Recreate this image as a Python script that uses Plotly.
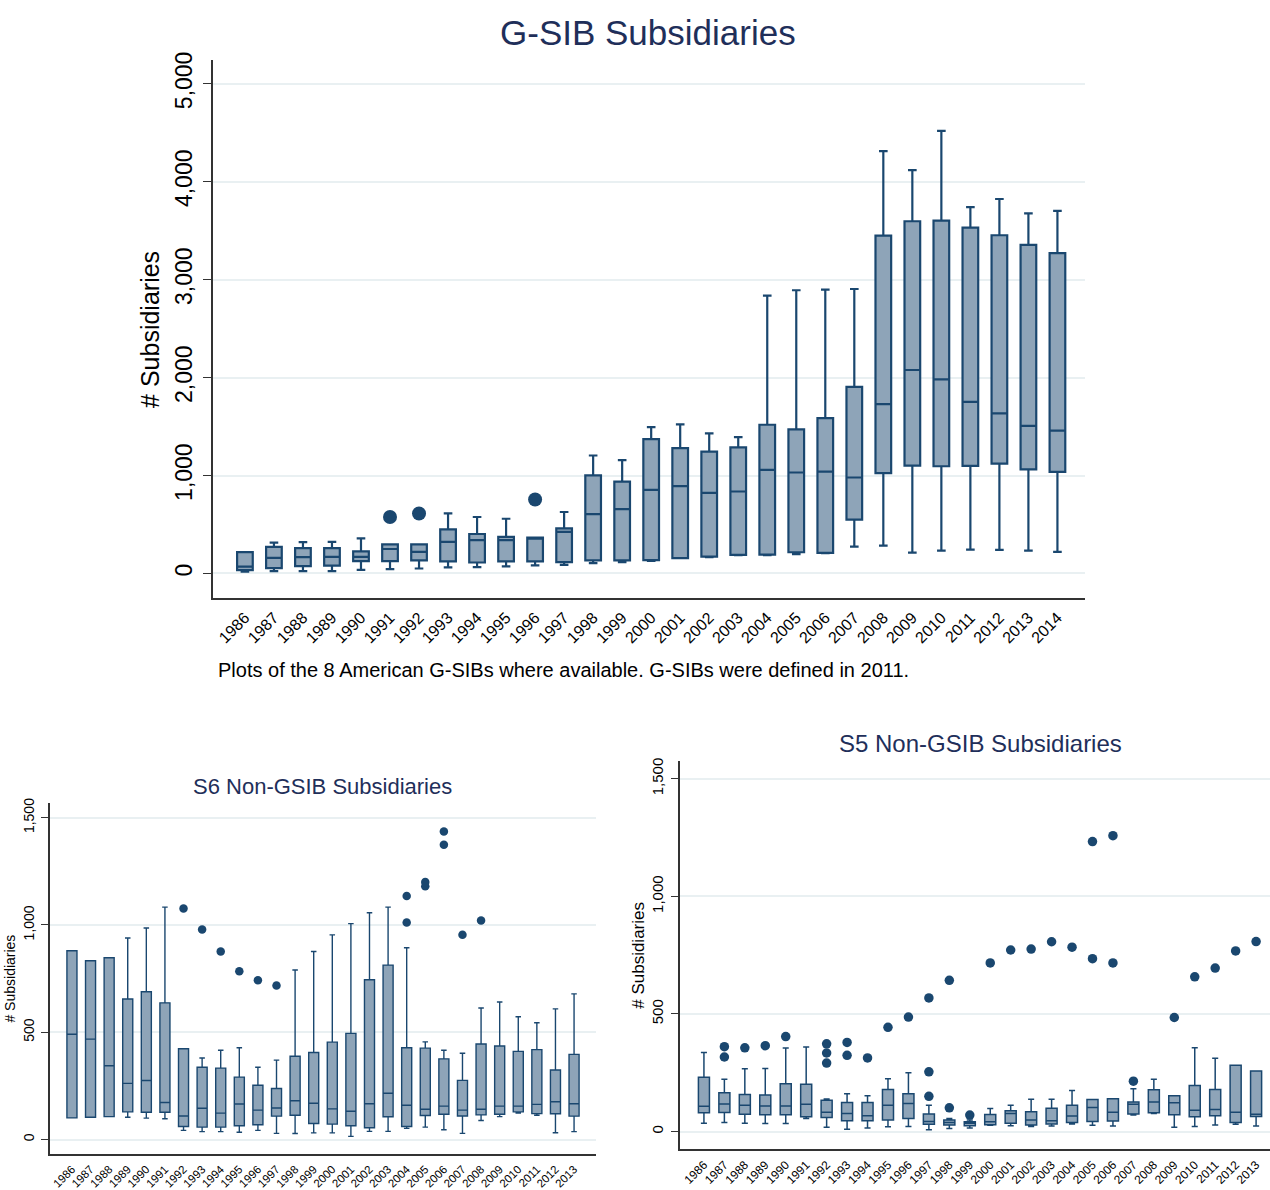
import plotly.graph_objects as go

# ---- data ----
g_years = list(range(1986, 2015))
g_lower = [20, 25, 25, 25, 36, 44, 51, 62, 65, 73, 83, 87, 105, 116, 129, 156, 166, 186, 186, 197, 207, 275, 285, 214, 234, 244, 241, 234, 220]
g_q1 = [35, 54, 76, 80, 127, 127, 134, 123, 112, 123, 123, 116, 134, 134, 136, 156, 173, 190, 193, 217, 210, 549, 1024, 1102, 1095, 1098, 1122, 1064, 1037]
g_med = [70, 160, 167, 170, 170, 250, 221, 323, 341, 341, 359, 424, 606, 657, 854, 892, 824, 837, 1058, 1031, 1041, 980, 1729, 2078, 1983, 1753, 1634, 1508, 1458]
g_q3 = [218, 272, 258, 258, 225, 298, 298, 450, 403, 374, 366, 461, 1001, 938, 1373, 1281, 1244, 1288, 1519, 1471, 1586, 1905, 3451, 3597, 3603, 3532, 3454, 3356, 3271]
g_upper = [218, 316, 320, 323, 359, 298, 298, 613, 577, 559, 366, 628, 1205, 1158, 1495, 1522, 1431, 1393, 2837, 2892, 2898, 2905, 4312, 4119, 4519, 3742, 3824, 3678, 3702]
g_out_x = [1991, 1992, 1996]
g_out_y = [577, 613, 755]

s_years = list(range(1986, 2014))
s6_lower = [101, 104, 107, 104, 100, 97, 43, 37, 37, 34, 43, 29, 28, 31, 31, 15, 38, 38, 52, 58, 46, 29, 89, 107, 124, 113, 32, 37]
s6_q1 = [101, 104, 107, 129, 127, 127, 61, 58, 58, 64, 69, 109, 113, 75, 72, 64, 55, 106, 61, 112, 118, 110, 115, 118, 129, 121, 120, 109]
s6_med = [491, 468, 344, 262, 275, 173, 110, 146, 123, 166, 137, 147, 181, 169, 143, 132, 167, 216, 160, 141, 156, 137, 141, 156, 156, 164, 176, 167]
s6_q3 = [880, 833, 847, 655, 689, 637, 423, 337, 333, 291, 253, 238, 388, 406, 454, 495, 745, 813, 428, 426, 376, 276, 445, 436, 411, 419, 324, 397]
s6_upper = [880, 833, 847, 939, 986, 1083, 423, 380, 416, 428, 337, 370, 790, 876, 954, 1006, 1057, 1083, 894, 455, 416, 402, 613, 641, 572, 544, 609, 679]
s6_out_x = [1992, 1993, 1994, 1995, 1996, 1997, 2004, 2004, 2005, 2005, 2006, 2006, 2007, 2008]
s6_out_y = [1077, 979, 876, 784, 742, 718, 1012, 1135, 1180, 1200, 1374, 1436, 954, 1021]

s5_lower = [35, 38, 35, 34, 34, 56, 18, 10, 15, 20, 22, 8, 13, 15, 27, 25, 22, 24, 32, 27, 24, 70, 77, 18, 21, 28, 31, 24]
s5_q1 = [80, 81, 74, 71, 71, 63, 60, 46, 46, 49, 56, 31, 28, 25, 29, 35, 28, 32, 39, 43, 45, 75, 80, 71, 63, 67, 38, 64]
s5_med = [108, 117, 112, 109, 109, 116, 82, 77, 67, 112, 119, 43, 39, 35, 42, 77, 49, 46, 66, 102, 82, 116, 126, 123, 91, 94, 82, 74]
s5_q3 = [231, 165, 158, 155, 203, 201, 133, 124, 124, 179, 161, 75, 49, 42, 73, 88, 84, 99, 112, 136, 140, 126, 178, 152, 196, 179, 282, 257]
s5_upper = [336, 222, 267, 268, 355, 359, 138, 161, 152, 225, 250, 112, 55, 49, 98, 112, 137, 137, 175, 136, 140, 182, 222, 152, 356, 312, 282, 257]
s5_out_x = [1987, 1987, 1988, 1989, 1990, 1992, 1992, 1992, 1993, 1993, 1994, 1995, 1996, 1997, 1997, 1997,
            1998, 1998, 1999, 2000, 2001, 2002, 2003, 2004, 2005, 2005, 2006, 2006, 2007, 2009, 2010, 2011, 2012, 2013]
s5_out_y = [317, 361, 356, 365, 404, 373, 334, 291, 379, 324, 313, 443, 487, 568, 254, 150,
            643, 101, 70, 717, 772, 776, 807, 784, 1233, 735, 1258, 717, 214, 485, 658, 695, 768, 808]

NAVY = "#1a476f"
FILL = "#8ea4b8"
TITLE = "#1f2f5a"
GRID = "#e9f0f2"
FONT = "Liberation Sans, Arial, sans-serif"

fig = go.Figure()


def add_panel(years, lower, q1, med, q3, upper, ox, oy, xa, ya, msize, lw):
    fig.add_trace(go.Box(
        x=years, lowerfence=lower, q1=q1, median=med, q3=q3, upperfence=upper,
        width=0.54, whiskerwidth=0.55, boxpoints=False,
        fillcolor=FILL, line=dict(color=NAVY, width=lw),
        xaxis=xa, yaxis=ya, showlegend=False, hoverinfo="skip"
    ))
    fig.add_trace(go.Scatter(
        x=ox, y=oy, mode="markers",
        marker=dict(color=NAVY, size=msize),
        xaxis=xa, yaxis=ya, showlegend=False
    ))


add_panel(g_years, g_lower, g_q1, g_med, g_q3, g_upper, g_out_x, g_out_y, "x", "y", 14, 2.2)
add_panel(s_years, s6_lower, s6_q1, s6_med, s6_q3, s6_upper, s6_out_x, s6_out_y, "x2", "y2", 8.5, 1.4)
add_panel(s_years, s5_lower, s5_q1, s5_med, s5_q3, s5_upper, s5_out_x, s5_out_y, "x3", "y3", 9.5, 1.5)


def xaxis_style(domain, rng, years, anchor, size):
    return dict(domain=domain, range=rng, anchor=anchor,
                tickmode="array", tickvals=years, ticktext=[str(y) for y in years],
                tickangle=-45, tickfont=dict(size=size, color="#000"),
                showgrid=False, zeroline=False, showline=True, linecolor="#333", linewidth=1.5,
                ticks="", ticklabelstandoff=2)


def yaxis_style(domain, rng, tv, anchor, size, tsize, standoff, ticklen):
    return dict(domain=domain, range=rng, anchor=anchor,
                tickmode="array", tickvals=tv, tickformat=",d", tickangle=-90,
                tickfont=dict(size=size, color="#000"),
                title=dict(text="# Subsidiaries", font=dict(size=tsize, color="#000"), standoff=standoff),
                showgrid=True, gridcolor=GRID, gridwidth=1.5, zeroline=False,
                showline=True, linecolor="#333", linewidth=1.5,
                ticks="outside", ticklen=ticklen, tickcolor="#333", ticklabelstandoff=2)


W, H = 1270, 1190
fig.update_layout(
    width=W, height=H,
    margin=dict(l=0, r=0, t=0, b=0),
    paper_bgcolor="white", plot_bgcolor="white",
    font=dict(family=FONT, color="#000"),
    xaxis=xaxis_style([213 / W, 1085 / W], [1984.9, 2014.95], g_years, "y", 16),
    yaxis=yaxis_style([1 - 598 / H, 1 - 53 / H], [-255, 5240], [0, 1000, 2000, 3000, 4000, 5000], "x", 23, 25, 4, 8),
    xaxis2=xaxis_style([50 / W, 596 / W], [1984.82, 2014.18], s_years, "y2", 11.5),
    yaxis2=yaxis_style([1 - 1161 / H, 1 - 805 / H], [-69, 1569], [0, 500, 1000, 1500], "x2", 14, 14, 2, 7),
    xaxis3=xaxis_style([680 / W, 1.0], [1984.83, 2013.68], s_years, "y3", 12),
    yaxis3=yaxis_style([1 - 1156 / H, 1 - 763 / H], [-76, 1574], [0, 500, 1000, 1500], "x3", 15, 17, 0, 7),
    annotations=[
        dict(text="G-SIB Subsidiaries", x=648 / W, y=1 - 25 / H, xref="paper", yref="paper",
             showarrow=False, font=dict(size=35, color=TITLE), xanchor="center", yanchor="middle"),
        dict(text="Plots of the 8 American G-SIBs where available. G-SIBs were defined in 2011.",
             x=216 / W, y=1 - 670 / H, xref="paper", yref="paper", showarrow=False,
             font=dict(size=20, color="#000"), xanchor="left", yanchor="middle"),
        dict(text="S6 Non-GSIB Subsidiaries", x=322 / W, y=1 - 788 / H, xref="paper", yref="paper",
             showarrow=False, font=dict(size=22, color=TITLE), xanchor="center", yanchor="middle"),
        dict(text="S5 Non-GSIB Subsidiaries", x=980 / W, y=1 - 745 / H, xref="paper", yref="paper",
             showarrow=False, font=dict(size=24, color=TITLE), xanchor="center", yanchor="middle"),
    ],
)

fig.write_html("out.html", config={"displayModeBar": False},
               post_script="document.body.style.margin='0';")
